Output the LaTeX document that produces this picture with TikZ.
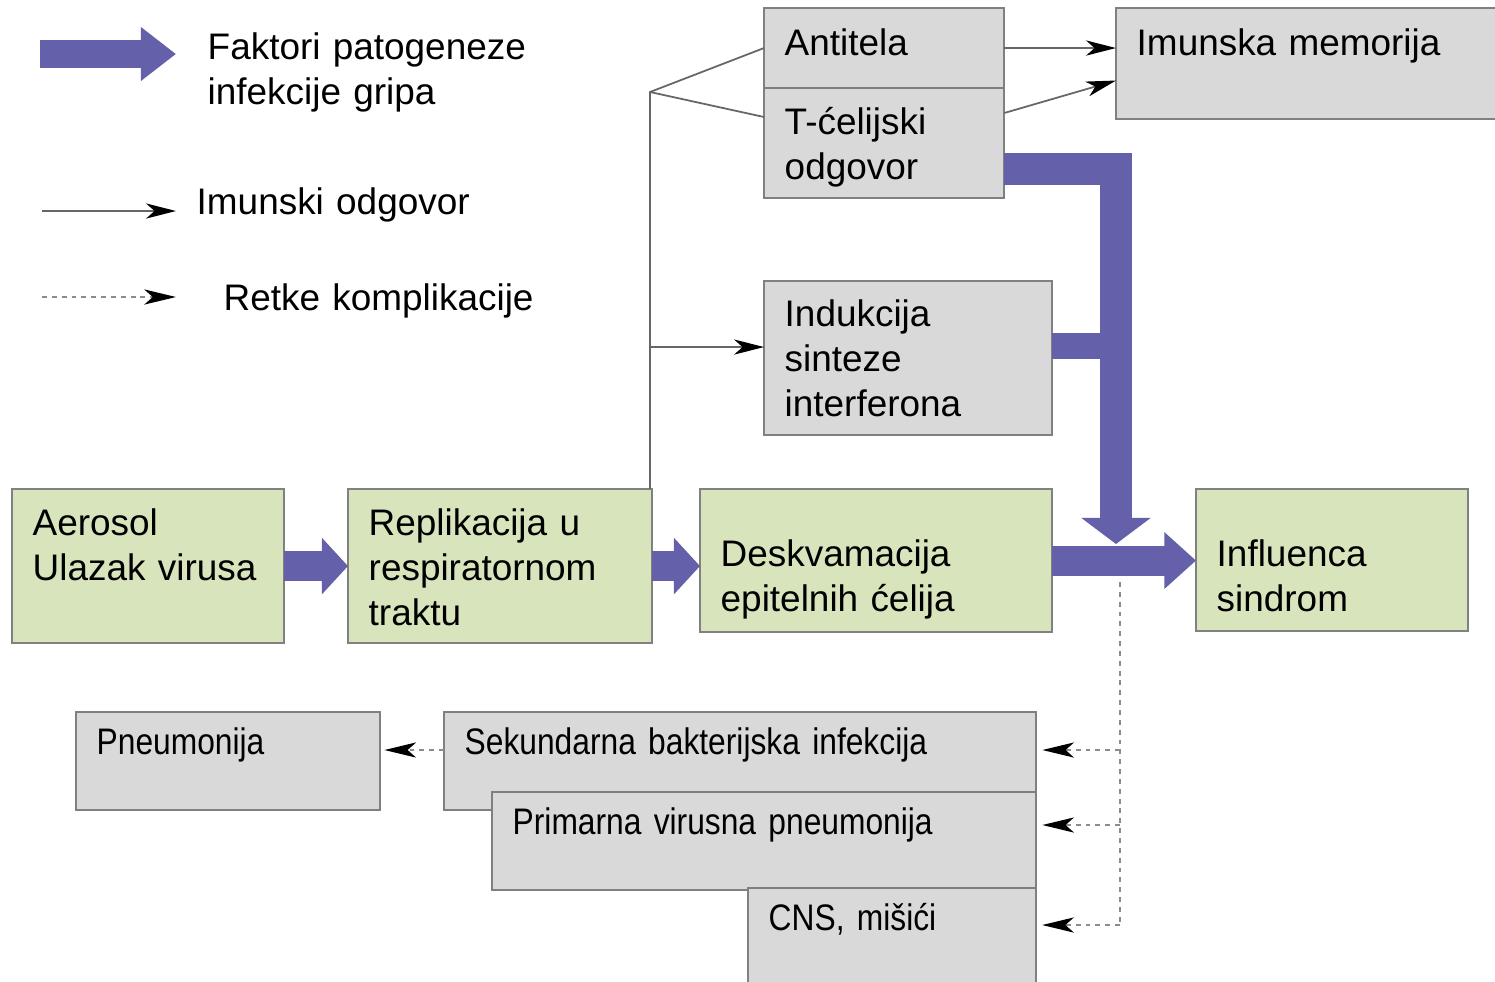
\documentclass[tikz,border=0pt]{standalone}
\usepackage{fontspec}
\setmainfont{Liberation Sans}
\newfontfamily\narrowsf[FakeStretch=0.86]{Liberation Sans}
\usepackage{tikz}
\usetikzlibrary{arrows.meta}
\usetikzlibrary{positioning}
\definecolor{boxgreen}{RGB}{216,228,188}
\definecolor{boxgray}{RGB}{217,217,217}
\definecolor{rimgray}{RGB}{128,128,128}
\definecolor{flow}{RGB}{100,96,170}
\tikzstyle{gbox}=[draw=rimgray, fill=boxgreen, line width=0.6pt, anchor=north west,
                  inner sep=0, outer sep=0]
\tikzstyle{sbox}=[gbox, fill=boxgray]
\tikzstyle{txt}=[anchor=base west, inner sep=0, align=left, text width=6cm,
                 font=\fontsize{10.5}{12.8}\selectfont]
\tikzstyle{ntxt}=[txt, font=\narrowsf\fontsize{10.5}{12.8}\selectfont]
\tikzstyle{fat}=[draw=flow, line width=8.5pt,
                 -{Triangle[length=7.4pt,width=15.6pt,color=flow]}]
\tikzstyle{imm}=[draw=black!60, line width=0.5pt,
                 -{Stealth[length=8.5pt,width=4.3pt,inset=2.4pt,color=black]}]
\tikzstyle{rare}=[draw=black!45, line width=0.6pt, dash pattern=on 1.4pt off 1.4pt]
\tikzstyle{raretip}=[rare, -{Stealth[length=9pt,width=4.3pt,inset=2.4pt,color=black]}]

\begin{document}
\begin{tikzpicture}[x=0.01cm, y=-0.01cm]
    \useasboundingbox (0,0) rectangle (1495,981);
    % legend
    \coordinate (lg1a) at (40,54);
    \coordinate (lg1b) at (176,54);
    \coordinate (lg2a) at (42,211);
    \coordinate (lg2b) at (176,211);
    \coordinate (lg3a) at (42,297);
    \coordinate (lg3b) at (176,297);
    \draw[fat, line width=8pt, -{Triangle[length=10pt,width=14.7pt,color=flow]}] (lg1a) -- (lg1b);
    \draw[imm] (lg2a) -- (lg2b);
    \draw[raretip] (lg3a) -- (lg3b);
    \node[txt] (lgt1) at (207,59) {Faktori patogeneze\\infekcije gripa};
    \node[txt] (lgt2) at (196,214) {Imunski odgovor};
    \node[txt] (lgt3) at (223,310) {Retke komplikacije};

    % main chain
    \node[gbox, minimum width=2.72cm, minimum height=1.54cm] (aer) at (12,489) {};
    \node[txt] (aer-t) at ([shift={(20,46)}]aer.north west) {Aerosol\\Ulazak virusa};
    \node[gbox, minimum width=3.04cm, minimum height=1.54cm] (rep) at (348,489) {};
    \node[txt] (rep-t) at ([shift={(20,46)}]rep.north west) {Replikacija u\\respiratornom\\traktu};
    \node[gbox, minimum width=3.52cm, minimum height=1.43cm] (desk) at (700,489) {};
    \node[txt] (desk-t) at ([shift={(20,77)}]desk.north west) {Deskvamacija\\epitelnih ćelija};
    \node[gbox, minimum width=2.72cm, minimum height=1.42cm] (infl) at (1196,489) {};
    \node[txt] (infl-t) at ([shift={(20,77)}]infl.north west) {Influenca\\sindrom};

    % immune response
    \node[sbox, minimum width=2.40cm, minimum height=0.80cm] (anti) at (764,8) {};
    \node[txt] (anti-t) at ([shift={(20,47)}]anti.north west) {Antitela};
    \node[sbox, minimum width=2.40cm, minimum height=1.10cm] (tcel) at (764,88) {};
    \node[txt] (tcel-t) at ([shift={(20,46)}]tcel.north west) {T-ćelijski\\odgovor};
    \node[sbox, minimum width=2.88cm, minimum height=1.54cm] (ind) at (764,281) {};
    \node[txt] (ind-t) at ([shift={(20,45)}]ind.north west) {Indukcija\\sinteze\\interferona};
    \node[sbox, minimum width=3.90cm, minimum height=1.11cm] (mem) at (1116,8) {};
    \node[txt] (mem-t) at ([shift={(20,47)}]mem.north west) {Imunska memorija};

    % complications
    \node[sbox, minimum width=3.04cm, minimum height=0.98cm] (pne) at (76,712) {};
    \node[ntxt] (pne-t) at ([shift={(20,42)}]pne.north west) {Pneumonija};
    \node[sbox, minimum width=5.92cm, minimum height=0.98cm] (sek) at (444,712) {};
    \node[ntxt] (sek-t) at ([shift={(20,42)}]sek.north west) {Sekundarna bakterijska infekcija};
    \node[sbox, minimum width=5.44cm, minimum height=0.98cm] (prim) at (492,792) {};
    \node[ntxt] (prim-t) at ([shift={(20,42)}]prim.north west) {Primarna virusna pneumonija};
    \node[sbox, minimum width=2.88cm, minimum height=1.20cm] (cns) at (748,888) {};
    \node[ntxt] (cns-t) at ([shift={(20,42)}]cns.north west) {CNS, mišići};

    % pathogenesis flow
    \draw[fat] (aer.east) -- (aer.east -| rep.west);
    \draw[fat] (rep.east) -- (rep.east -| desk.west);
    \draw[fat, -{Triangle[length=9pt,width=15.6pt,color=flow]}] (desk.east) -- (desk.east -| infl.west);
    \coordinate (drop) at (1116,544);
    \draw[fat, line width=9pt, -{Triangle[length=7.4pt,width=19.3pt,color=flow]}]
      ([shift={(0,26)}]tcel.east) -| (drop);
    \path ([shift={(0,-12)}]ind.east) coordinate (indout);
    \draw[draw=flow, line width=7.6pt] (indout) -- (indout -| drop);

    % immune lines
    \coordinate (split) at (650,92);
    \draw[draw=black!60, line width=0.5pt] (split |- rep.north) -- (split) -- (anti.west);
    \draw[draw=black!60, line width=0.5pt] (split) -- ([shift={(0,29)}]tcel.north west);
    \path ([shift={(0,-11)}]ind.west) coordinate (indin);
    \draw[imm] (split |- indin) -- (indin);
    \draw[imm] (anti.east) -- (anti.east -| mem.west);
    \draw[imm] ([shift={(0,-30)}]tcel.east) -- ([shift={(0,17)}]mem.west);

    % rare complications
    \coordinate (dtop) at (1120,582);
    \coordinate (d1) at (1120,750);
    \coordinate (d2) at (1120,825);
    \coordinate (d3) at (1120,925);
    \draw[rare] (dtop) -- (d3);
    \draw[raretip, shorten >=1.7pt] (d1) -- (d1 -| sek.east);
    \draw[raretip, shorten >=1.7pt] (d2) -- (d2 -| prim.east);
    \draw[raretip, shorten >=1.7pt] (d3) -- (d3 -| cns.east);
    \draw[raretip, shorten >=1.2pt] (d1 -| sek.west) -- (d1 -| pne.east);
  \end{tikzpicture}
\end{document}
